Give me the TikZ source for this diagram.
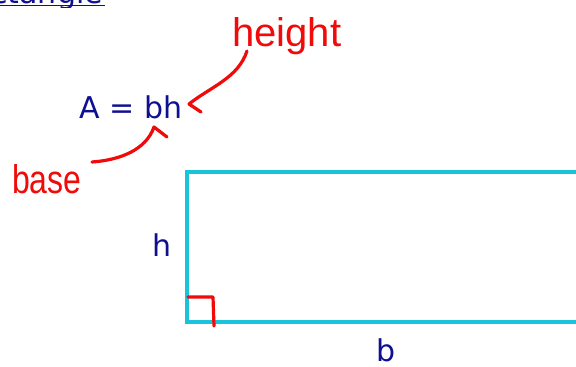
\documentclass[tikz,border=0pt]{standalone}
\usepackage{fontspec}
\setmainfont{DejaVu Sans}
\newfontfamily\handfont{Liberation Sans}
\definecolor{navytext}{RGB}{15,15,145}
\definecolor{rectcyan}{RGB}{25,195,220}
\definecolor{penred}{RGB}{240,10,10}
\begin{document}
\begin{tikzpicture}[x=1pt,y=-1pt,
  bluetext/.style={text=navytext,font=\fontsize{30}{34}\selectfont,inner sep=0pt},
  handtext/.style={text=penred,font=\handfont\fontsize{40}{44}\selectfont,inner sep=0pt},
  penline/.style={draw=penred,line width=3.2pt,line cap=round,line join=round},
  rectline/.style={draw=rectcyan,line width=3.5pt}]
\useasboundingbox (0,0) rectangle (576,367);
\fill[white] (0,0) rectangle (576,367);
% title, cut off at the top
\begin{scope}
\clip (0,0) rectangle (576,7);
\node[bluetext,anchor=base east] (title) at (103,3.5) {Rectangle};
\draw[navytext,line width=1.6pt] (0,5.5) -- (105,5.5);
\end{scope}
% formula
\node[bluetext,anchor=base west] (formula) at (79.5,118) {A = bh};
% rectangle (runs off the right edge)
\begin{scope}
\clip (0,0) rectangle (576,367);
\draw[rectline] (600,172) -- (187,172) -- (187,322) -- (600,322);
\end{scope}
% right angle mark
\coordinate (ra1) at (188,297);
\coordinate (ra2) at (213,297);
\coordinate (ra3) at (214,326);
\draw[penline] (ra1) -- (ra2) -- (ra3);
% side labels
\node[bluetext,anchor=base west] (hlab) at (152.5,256) {h};
\node[bluetext,anchor=base west] (blab) at (376,361) {b};
% handwritten notes
\node[handtext,anchor=base west] (height) at (232,46) {height};
\node[handtext,anchor=base west] (base) at (12,193) {\scalebox{0.8}[1]{base}};
% arrows
\coordinate (hs) at (247,51);
\coordinate (ht) at (189,104);
\coordinate (ha) at (201,112);
\draw[penline] (hs) .. controls (238,78) and (212,86) .. (ht) -- (ha);
\coordinate (bs) at (92,162);
\coordinate (bt) at (154,127);
\coordinate (ba) at (167,137);
\draw[penline] (bs) .. controls (120,160) and (146,150) .. (bt) -- (ba);
\end{tikzpicture}
\end{document}
